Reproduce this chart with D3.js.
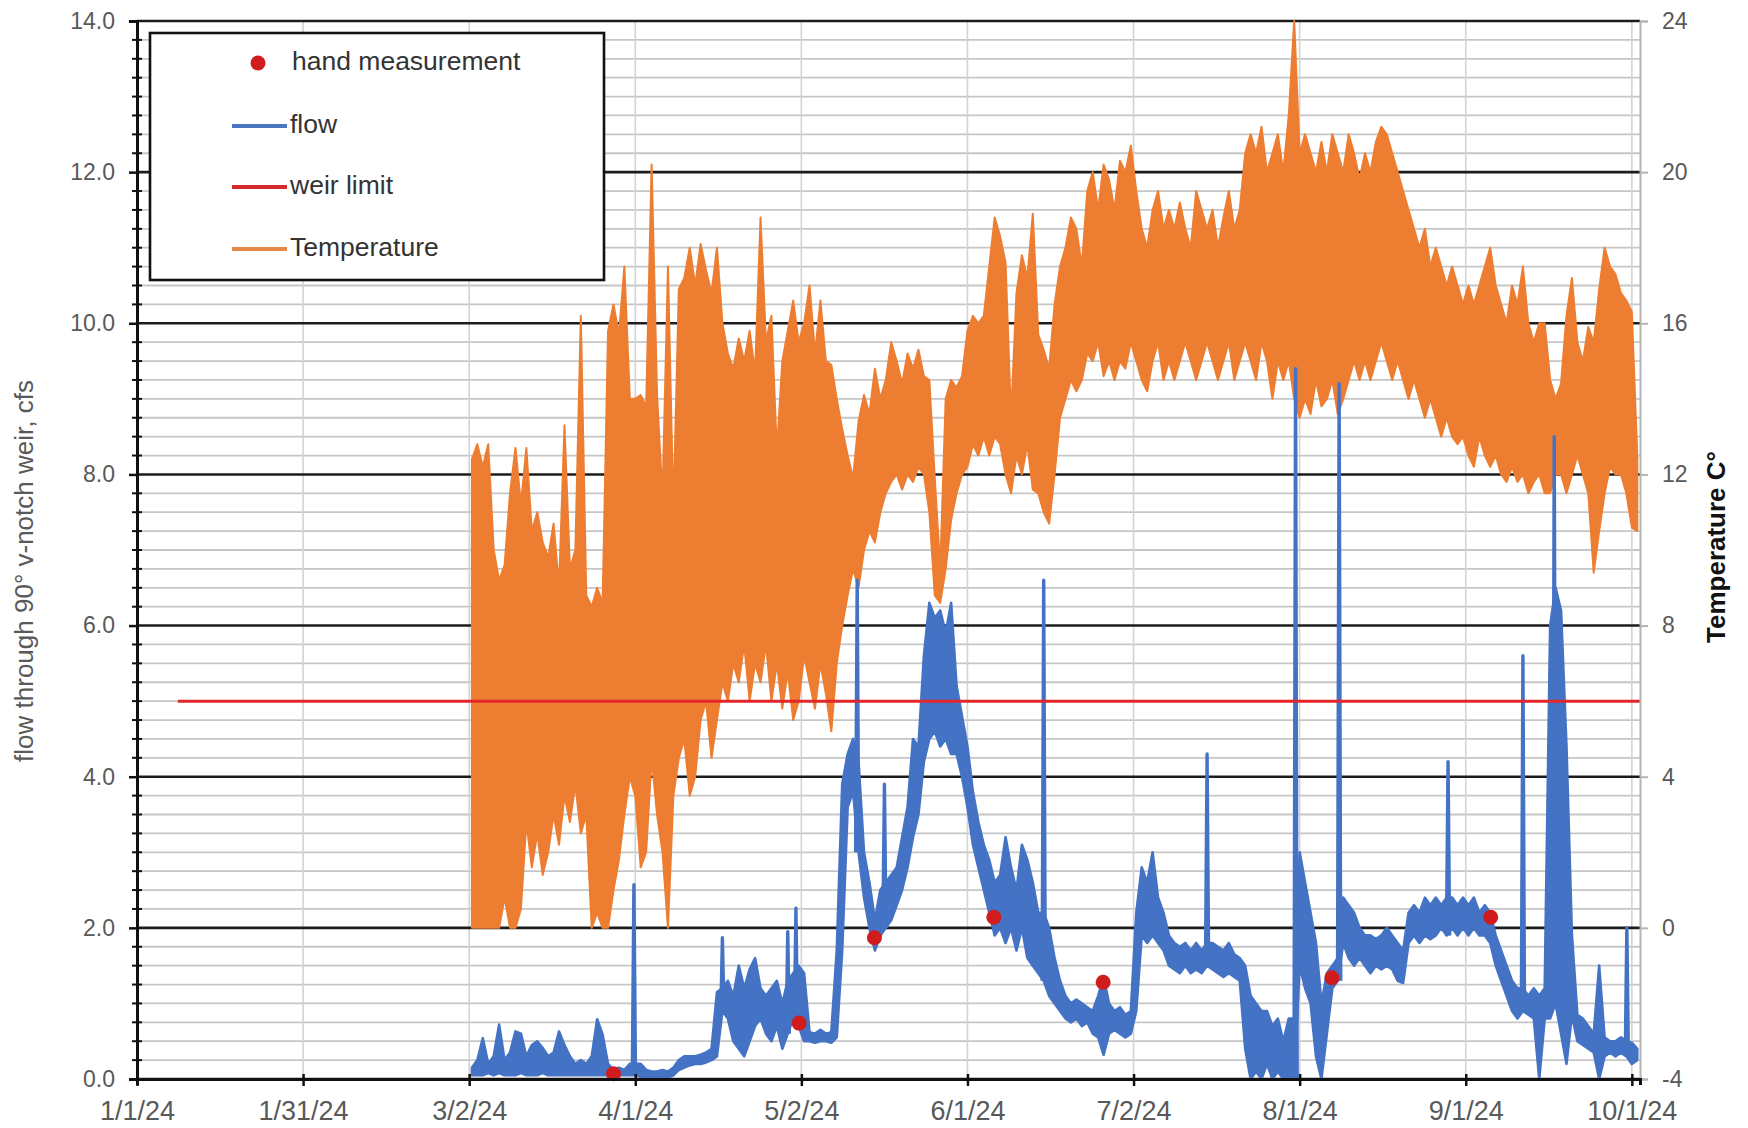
<!DOCTYPE html>
<html>
<head>
<meta charset="utf-8">
<script src="https://cdn.jsdelivr.net/npm/d3@7"></script>
<style>
  html, body { margin: 0; padding: 0; background: #fff; }
  svg { display: block; font-family: "Liberation Sans", Arial, sans-serif; }
</style>
</head>
<body>
<svg id="chart" width="1748" height="1128"></svg>
<script>
// ---------------------------------------------------------------
// Weir station record, 2024: daily low / high readings from 3/2/24
// ---------------------------------------------------------------
const seriesStart = "2024-03-02";

// Water temperature, deg C (daily minimum / maximum)
const tempLow = [
  0, 0, 0, 0, 0, 0, 0.8, 0, 0, 0.5, 2.8, 1.6, 2.5, 1.4, 2.0, 3.0, 2.2, 3.5, 2.8, 3.8, 2.5, 3.0, 0, 0.4, 0, 0, 1.0, 1.8, 3.0, 4.0,          // Mar
  3.5, 1.6, 2.0, 4.5, 3.0, 2.0, 0, 3.5, 4.5, 5.0, 3.5, 4.0, 5.5, 6.0, 4.5, 5.5, 6.5, 6.0, 7.0, 6.5, 7.5, 6.0, 7.0, 6.5, 7.5, 6.0, 7.0, 5.8, 6.8, 5.5, // Apr
  6.0, 7.2, 6.5, 5.8, 7.0, 6.2, 5.2, 7.0, 8.0, 8.8, 9.5, 9.0, 10.0, 10.5, 10.2, 11.0, 11.5, 11.8, 12.0, 11.6, 12.0, 11.8, 12.2, 12.0, 11.0, 8.8, 8.6, 9.5, 10.8, 11.5, 12.0, // May
  12.2, 12.8, 12.5, 13.0, 12.5, 13.0, 12.8, 12.0, 11.5, 12.5, 12.0, 12.8, 11.6, 11.5, 11.0, 10.7, 12.0, 13.5, 14.0, 14.5, 14.2, 14.5, 15.2, 15.0, 15.5, 14.6, 15.0, 14.5, 15.0, 14.8, // Jun
  15.5, 15.0, 14.5, 14.2, 15.0, 15.5, 14.5, 15.0, 14.5, 15.0, 15.5, 15.0, 14.5, 15.0, 15.5, 15.0, 14.5, 15.0, 15.5, 14.5, 15.0, 15.5, 15.0, 14.5, 15.5, 15.0, 14.0, 15.0, 14.5, 15.0, 14.0, // Jul
  13.5, 14.0, 13.6, 14.5, 13.8, 14.0, 14.5, 13.6, 14.0, 14.5, 15.0, 14.5, 15.0, 14.5, 15.0, 15.5, 15.0, 14.5, 15.0, 14.5, 14.0, 14.5, 14.0, 13.5, 14.0, 13.5, 13.0, 13.5, 13.0, 12.8, 13.0, // Aug
  12.5, 12.2, 13.0, 12.5, 12.2, 12.5, 12.0, 11.8, 12.2, 11.8, 12.0, 11.5, 11.8, 12.0, 11.5, 11.5, 12.0, 12.0, 11.5, 12.0, 12.5, 12.0, 11.5, 9.4, 10.5, 11.5, 12.2, 12.0, 12.0, 11.5, // Sep
  10.6, 10.5 // Oct
];
const tempHigh = [
  12.4, 12.8, 12.2, 12.8, 10.0, 9.2, 9.6, 11.5, 12.7, 11.2, 12.7, 10.5, 11.0, 10.2, 9.8, 10.7, 9.0, 13.3, 9.5, 10.0, 16.2, 8.8, 8.5, 9.0, 8.6, 15.8, 16.5, 15.7, 17.5, 14.0, // Mar
  14.0, 14.1, 13.8, 20.2, 14.1, 11.4, 17.5, 11.0, 16.9, 17.2, 18.0, 17.0, 18.1, 17.4, 16.8, 18.0, 16.0, 15.2, 14.8, 15.6, 15.0, 15.8, 14.7, 18.8, 15.5, 16.2, 12.6, 15.0, 15.8, 16.6, // Apr
  15.5, 16.0, 17.0, 15.2, 16.6, 15.0, 14.9, 14.0, 13.2, 12.5, 11.9, 13.4, 14.1, 13.6, 14.8, 14.0, 14.5, 15.5, 15.0, 14.4, 15.2, 14.8, 15.3, 14.6, 14.5, 11.9, 9.5, 14.0, 14.5, 14.3, 14.6, // May
  15.8, 16.2, 16.0, 16.2, 17.5, 18.8, 18.3, 17.6, 13.5, 16.8, 17.8, 17.2, 18.9, 15.7, 15.3, 14.8, 16.5, 17.5, 18.0, 18.8, 18.5, 17.5, 19.5, 20.0, 19.0, 20.2, 19.8, 19.0, 20.3, 20.0, // Jun
  20.7, 19.5, 18.5, 18.0, 19.0, 19.5, 18.5, 19.0, 18.5, 19.2, 18.5, 18.0, 19.5, 19.0, 18.5, 19.0, 18.0, 18.8, 19.5, 18.5, 19.0, 20.5, 21.0, 20.5, 21.2, 20.0, 20.5, 21.0, 20.0, 21.5, 24.0, // Jul
  20.5, 21.0, 20.5, 20.0, 20.8, 20.0, 21.0, 20.5, 20.0, 21.0, 20.5, 19.8, 20.5, 20.0, 20.8, 21.2, 21.0, 20.5, 20.0, 19.5, 19.0, 18.5, 18.0, 18.5, 17.5, 18.0, 17.5, 17.0, 17.5, 17.0, 16.5, // Aug
  17.0, 16.5, 17.0, 17.5, 18.0, 17.0, 16.5, 16.0, 17.0, 16.5, 17.5, 16.0, 15.5, 16.0, 16.0, 14.5, 14.0, 14.4, 16.2, 17.2, 15.5, 15.0, 15.9, 15.5, 16.9, 18.0, 17.5, 17.3, 16.8, 16.6, // Sep
  16.3, 12.5 // Oct
];

// Flow through the 90 degree v-notch weir, cfs (daily minimum / maximum, short storm peaks listed separately)
const flowLow = [
  0.05, 0.05, 0.05, 0.08, 0.05, 0.08, 0.05, 0.05, 0.05, 0.08, 0.05, 0.05, 0.05, 0.08, 0.05, 0.05, 0.05, 0.05, 0.05, 0.05, 0.05, 0.05, 0.05, 0.05, 0.05, 0.05, 0.05, 0.05, 0.05, 0.05, // Mar
  0.05, 0.03, 0.02, 0.02, 0.02, 0.02, 0.02, 0.05, 0.12, 0.15, 0.18, 0.2, 0.2, 0.22, 0.25, 0.3, 0.9, 0.8, 0.5, 0.4, 0.3, 0.5, 0.7, 0.8, 0.6, 0.5, 0.7, 0.4, 0.6, 0.8, // Apr
  0.7, 0.5, 0.5, 0.48, 0.5, 0.5, 0.48, 0.55, 1.7, 3.6, 3.8, 3.0, 2.4, 2.0, 1.7, 1.9, 2.0, 2.1, 2.3, 2.5, 2.8, 3.2, 3.5, 4.2, 4.5, 4.6, 4.4, 4.5, 4.3, 4.3, 4.0, // May
  3.6, 3.1, 2.8, 2.5, 2.2, 1.9, 2.0, 1.8, 2.0, 1.7, 2.0, 1.6, 1.5, 1.4, 1.3, 1.1, 1.0, 0.9, 0.8, 0.75, 0.8, 0.7, 0.75, 0.6, 0.55, 0.32, 0.6, 0.65, 0.6, 0.55, // Jun
  0.6, 0.9, 1.9, 1.8, 1.9, 1.8, 1.7, 1.5, 1.45, 1.4, 1.5, 1.4, 1.45, 1.4, 1.5, 1.45, 1.4, 1.35, 1.4, 1.35, 1.3, 0.4, 0.0, 0.1, 0.0, 0.2, 0.0, 0.1, 0.0, 0.0, 0.0, // Jul
  1.5, 1.2, 1.0, 0.3, 0.0, 0.6, 1.2, 1.3, 1.8, 1.6, 1.5, 1.6, 1.5, 1.4, 1.5, 1.45, 1.5, 1.45, 1.3, 1.27, 1.8, 1.9, 1.8, 1.9, 1.85, 1.9, 2.0, 1.9, 2.0, 1.9, 2.0, // Aug
  1.9, 2.0, 1.9, 1.9, 1.8, 1.5, 1.3, 1.1, 0.9, 0.8, 0.9, 0.85, 0.8, 0.0, 0.8, 0.8, 1.0, 0.6, 0.2, 0.85, 0.5, 0.45, 0.4, 0.35, 0.0, 0.3, 0.35, 0.3, 0.35, 0.3, // Sep
  0.2, 0.25 // Oct
];
const flowHigh = [
  0.15, 0.25, 0.54, 0.2, 0.3, 0.72, 0.25, 0.35, 0.63, 0.6, 0.3, 0.45, 0.5, 0.41, 0.3, 0.35, 0.63, 0.45, 0.3, 0.2, 0.25, 0.2, 0.3, 0.79, 0.59, 0.2, 0.12, 0.15, 0.12, 0.2, // Mar
  0.2, 0.2, 0.12, 0.1, 0.1, 0.12, 0.1, 0.15, 0.25, 0.3, 0.3, 0.3, 0.32, 0.35, 0.4, 1.15, 1.2, 1.3, 1.1, 1.5, 1.2, 1.45, 1.6, 1.2, 1.1, 1.2, 1.3, 1.0, 1.3, 1.4, // Apr
  1.5, 1.4, 0.62, 0.6, 0.65, 0.6, 0.62, 1.7, 3.9, 4.3, 4.5, 4.2, 3.0, 2.6, 2.1, 2.5, 2.6, 2.7, 2.8, 3.2, 3.6, 4.5, 4.4, 5.6, 6.3, 6.1, 6.2, 5.9, 6.3, 5.2, 4.8, // May
  4.4, 3.8, 3.4, 3.1, 2.9, 2.6, 2.7, 3.2, 2.8, 2.5, 3.1, 2.9, 2.6, 2.2, 2.2, 2.0, 1.6, 1.3, 1.1, 1.0, 1.05, 1.0, 0.95, 0.9, 1.1, 1.35, 1.0, 0.9, 0.95, 0.85, // Jun
  0.9, 2.2, 2.8, 2.6, 3.0, 2.4, 2.2, 1.9, 1.8, 1.75, 1.8, 1.7, 1.8, 1.7, 1.8, 1.8, 1.75, 1.7, 1.8, 1.65, 1.6, 1.5, 1.1, 1.0, 0.9, 0.9, 0.7, 0.8, 0.5, 0.8, 0.8, // Jul
  3.0, 2.6, 2.2, 1.8, 1.0, 1.4, 1.5, 1.6, 2.4, 2.3, 2.2, 2.0, 1.9, 1.9, 1.85, 1.9, 2.0, 1.9, 1.8, 1.7, 2.2, 2.3, 2.2, 2.4, 2.3, 2.4, 2.3, 2.4, 2.4, 2.3, 2.4, // Aug
  2.3, 2.4, 2.2, 2.3, 2.2, 1.9, 1.7, 1.5, 1.3, 1.2, 1.2, 1.1, 1.2, 1.1, 1.2, 6.0, 6.5, 6.2, 4.4, 1.9, 0.85, 0.8, 0.7, 0.6, 1.5, 0.55, 0.5, 0.5, 0.55, 0.5, // Sep
  0.48, 0.4 // Oct
];
const flowPeakTimes  = ["2024-04-01T06:00", "2024-04-17T12:00", "2024-04-29T12:00", "2024-05-01T00:00",
                        "2024-05-12T06:00", "2024-05-17T06:00", "2024-06-15T12:00", "2024-07-15T12:00",
                        "2024-07-31T18:00", "2024-08-08T18:00", "2024-08-28T18:00", "2024-09-11T12:00",
                        "2024-09-17T06:00", "2024-09-30T14:00"];
const flowPeakValues = [2.57, 1.87, 1.95, 2.26, 6.6, 3.9, 6.6, 4.3, 9.4, 9.2, 4.2, 5.6, 8.5, 2.0];

// Hand measurements of flow, cfs
const handDates  = ["2024-03-28T12:00", "2024-05-01T14:00", "2024-05-15T10:00", "2024-06-06T08:00",
                    "2024-06-26T10:00", "2024-08-07T10:00", "2024-09-05T14:00"];
const handValues = [0.07, 0.74, 1.87, 2.14, 1.28, 1.34, 2.14];

// Weir limit, cfs
const weirDates = ["2024-01-08T12:00", "2024-10-03T00:00"];
const weirValue = 5.0;

// Axes
const xDomain    = ["2024-01-01T00:00", "2024-10-03T00:00"];
const xTickDates = ["2024-01-01T00:00", "2024-01-31T12:00", "2024-03-02T00:00", "2024-04-01T12:00",
                    "2024-05-02T00:00", "2024-06-01T12:00", "2024-07-02T00:00", "2024-08-01T12:00",
                    "2024-09-01T00:00", "2024-10-01T12:00"];
const flowTicks  = [0, 2, 4, 6, 8, 10, 12, 14];
const tempTicks  = [-4, 0, 4, 8, 12, 16, 20, 24];

const legendItems = [
  { label: "hand measurement", kind: "dot" },
  { label: "flow",             kind: "line", color: "#4a76c0" },
  { label: "weir limit",       kind: "line", color: "#d42a2a" },
  { label: "Temperature",      kind: "line", color: "#e4894a" }
];

// ---------------------------------------------------------------
const W = 1748, H = 1128;
const margin = { top: 21, right: 108, bottom: 49, left: 137 };
const COLORS = { temp: "#ed7d31", flow: "#4472c4", weir: "#e3262b", dot: "#d01c1c",
                 text: "#595959", minor: "#c6c6c6", vgrid: "#d3d3d3", major: "#1c1c1c" };

const parseDay = d3.timeParse("%Y-%m-%d");
const parseStamp = d3.timeParse("%Y-%m-%dT%H:%M");
const start = parseDay(seriesStart);

const x = d3.scaleTime()
  .domain(xDomain.map(parseStamp))
  .range([margin.left, W - margin.right]);
const yFlow = d3.scaleLinear().domain([0, 14]).range([H - margin.bottom, margin.top]);
const yTemp = d3.scaleLinear().domain([-4, 24]).range([H - margin.bottom, margin.top]);

const svg = d3.select("#chart");
const x0 = margin.left, x1 = W - margin.right;
const y0 = H - margin.bottom, y1 = margin.top;

// minor horizontal gridlines every 0.25 cfs
const minorVals = d3.range(0, 14.001, 0.25).filter(v => Math.abs(v / 2 - Math.round(v / 2)) > 1e-6);
svg.append("g").selectAll("line").data(minorVals).join("line")
  .attr("x1", x0).attr("x2", x1)
  .attr("y1", d => yFlow(d)).attr("y2", d => yFlow(d))
  .attr("stroke", COLORS.minor).attr("stroke-width", 1.8);

// vertical gridlines at date ticks
const tickDates = xTickDates.map(parseStamp);
svg.append("g").selectAll("line").data(tickDates.slice(1)).join("line")
  .attr("x1", d => x(d)).attr("x2", d => x(d))
  .attr("y1", y1).attr("y2", y0)
  .attr("stroke", COLORS.vgrid).attr("stroke-width", 1.6);

// major horizontal gridlines
svg.append("g").selectAll("line").data(flowTicks).join("line")
  .attr("x1", x0).attr("x2", x1)
  .attr("y1", d => yFlow(d)).attr("y2", d => yFlow(d))
  .attr("stroke", COLORS.major).attr("stroke-width", 2.6);

// daily low/high records
function dailyRange(lows, highs) {
  return lows.map((lo, i) => ({
    t: d3.timeHour.offset(d3.timeDay.offset(start, i), 12), lo, hi: highs[i]
  }));
}

const plot = svg.append("g");

// temperature band (secondary axis)
const tempDaily = dailyRange(tempLow, tempHigh);
plot.append("path")
  .datum(tempDaily)
  .attr("fill", COLORS.temp)
  .attr("stroke", COLORS.temp)
  .attr("stroke-width", 2)
  .attr("stroke-linejoin", "round")
  .attr("d", d3.area().x(d => x(d.t)).y0(d => yTemp(d.lo)).y1(d => yTemp(d.hi)));

// flow band
const flowDaily = dailyRange(flowLow, flowHigh);
plot.append("path")
  .datum(flowDaily)
  .attr("fill", COLORS.flow)
  .attr("stroke", COLORS.flow)
  .attr("stroke-width", 2.6)
  .attr("stroke-linejoin", "round")
  .attr("d", d3.area().x(d => x(d.t)).y0(d => yFlow(d.lo)).y1(d => yFlow(d.hi)));

// short storm peaks rising from the day's low flow
const peakLine = d3.line().x(d => x(d.t)).y(d => yFlow(d.v));
flowPeakTimes.forEach((s, i) => {
  const t = parseStamp(s);
  const dayIdx = d3.timeDay.count(start, d3.timeDay.floor(t));
  const base = flowLow[dayIdx];
  plot.append("path")
    .datum([
      { t: d3.timeHour.offset(t, -7), v: base },
      { t: t, v: flowPeakValues[i] },
      { t: d3.timeHour.offset(t, 7), v: base }
    ])
    .attr("fill", COLORS.flow)
    .attr("stroke", COLORS.flow)
    .attr("stroke-width", 3.4)
    .attr("stroke-linejoin", "round")
    .attr("d", peakLine);
});

// weir limit
plot.append("path")
  .datum(weirDates.map(s => ({ t: parseStamp(s), v: weirValue })))
  .attr("fill", "none")
  .attr("stroke", COLORS.weir)
  .attr("stroke-width", 3)
  .attr("d", d3.line().x(d => x(d.t)).y(d => yFlow(d.v)));

// hand measurements
plot.append("g").selectAll("circle")
  .data(handDates.map((s, i) => ({ t: parseStamp(s), v: handValues[i] })))
  .join("circle")
  .attr("cx", d => x(d.t)).attr("cy", d => yFlow(d.v))
  .attr("r", 7.5).attr("fill", COLORS.dot);

// ---------------- axes ----------------
const fontFam = '"Liberation Sans", Arial, sans-serif';

// left axis
const gLeft = svg.append("g").attr("transform", `translate(${x0},0)`)
  .call(d3.axisLeft(yFlow).tickValues(flowTicks).tickFormat(d3.format(".1f")).tickSize(8).tickPadding(14));
gLeft.select(".domain").attr("stroke", "#111").attr("stroke-width", 3);
gLeft.selectAll(".tick line").attr("stroke", "#111").attr("stroke-width", 2.5);
gLeft.selectAll("text").attr("font-size", 23).attr("fill", COLORS.text).attr("font-family", fontFam);
// minor ticks crossing the left axis
svg.append("g").selectAll("line").data(minorVals).join("line")
  .attr("x1", x0 - 5).attr("x2", x0 + 5)
  .attr("y1", d => yFlow(d)).attr("y2", d => yFlow(d))
  .attr("stroke", "#111").attr("stroke-width", 2);

// right axis
const gRight = svg.append("g").attr("transform", `translate(${x1},0)`)
  .call(d3.axisRight(yTemp).tickValues(tempTicks).tickFormat(d3.format("d")).tickSize(8).tickPadding(14));
gRight.select(".domain").attr("stroke", "#b4b4b4").attr("stroke-width", 2);
gRight.selectAll(".tick line").attr("stroke", "#b4b4b4").attr("stroke-width", 2);
gRight.selectAll("text").attr("font-size", 23).attr("fill", COLORS.text).attr("font-family", fontFam)
  .text(d => d < 0 ? "-" + Math.abs(d) : d);

// bottom axis
const gBottom = svg.append("g").attr("transform", `translate(0,${y0})`)
  .call(d3.axisBottom(x).tickValues(tickDates).tickFormat(d3.timeFormat("%-m/%-d/%y")).tickSize(6).tickPadding(16));
gBottom.select(".domain").attr("stroke", "#111").attr("stroke-width", 3);
gBottom.selectAll(".tick line").attr("y1", -5).attr("y2", 7).attr("stroke", "#111").attr("stroke-width", 2.5);
gBottom.selectAll("text").attr("font-size", 27).attr("fill", COLORS.text).attr("font-family", fontFam);

// axis titles
svg.append("text")
  .attr("transform", "translate(26,571) rotate(-90)")
  .attr("text-anchor", "middle").attr("dominant-baseline", "middle")
  .attr("font-size", 26).attr("fill", COLORS.text).attr("font-family", fontFam)
  .text("flow through 90° v-notch weir, cfs");

svg.append("text")
  .attr("transform", "translate(1718,547) rotate(-90)")
  .attr("text-anchor", "middle").attr("dominant-baseline", "middle")
  .attr("font-size", 26).attr("font-weight", "bold").attr("fill", "#111").attr("font-family", fontFam)
  .text("Temperature C°");

// ---------------- legend ----------------
const lg = svg.append("g").attr("transform", "translate(150,33)");
lg.append("rect").attr("width", 454).attr("height", 247)
  .attr("fill", "#fff").attr("stroke", "#111").attr("stroke-width", 2.6);
const rowY = [30, 93, 154, 216];
legendItems.forEach((item, i) => {
  const row = lg.append("g").attr("transform", `translate(0,${rowY[i]})`);
  if (item.kind === "dot") {
    row.append("circle").attr("cx", 108).attr("cy", 0).attr("r", 7.5).attr("fill", COLORS.dot);
  } else {
    row.append("line").attr("x1", 82).attr("x2", 137).attr("y1", 0).attr("y2", 0)
      .attr("stroke", item.color).attr("stroke-width", 4);
  }
  row.append("text").attr("x", item.kind === "dot" ? 142 : 140).attr("y", 0)
    .attr("dominant-baseline", "middle")
    .attr("font-size", 26.5).attr("fill", "#333").attr("font-family", fontFam)
    .text(item.label);
});
</script>
</body>
</html>
